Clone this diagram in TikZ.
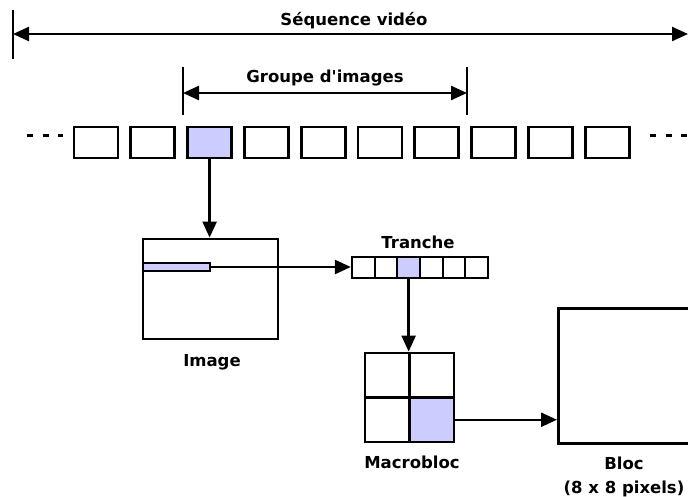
\documentclass[tikz,border=0pt]{standalone}
\usepackage{fontspec}
\setmainfont{DejaVu Sans}
\usetikzlibrary{arrows.meta}
\definecolor{sel}{RGB}{204,204,255}
\begin{document}
\begin{tikzpicture}[x=1pt,y=-1pt,
  frame/.style={draw,line width=2.8pt,minimum width=44pt,minimum height=31pt,inner sep=0pt},
  cell/.style={draw,line width=2.2pt,minimum width=22.67pt,minimum height=21pt,inner sep=0pt},
  conn/.style={line width=2.4pt,-{Triangle[length=16pt,width=14pt]}},
  dbl/.style={line width=2.4pt,{Triangle[length=16pt,width=14pt]}-{Triangle[length=16pt,width=14pt]}},
  bar/.style={line width=2.4pt},
  lbl/.style={font=\fontsize{16.5}{19}\selectfont\bfseries,anchor=base,inner sep=0pt},
  dots/.style={line width=2.8pt,dash pattern=on 6pt off 9.5pt}]
\clip (0,0) rectangle (688,497);
\fill[white] (0,0) rectangle (688,497);
% sequence arrow
\coordinate (sL) at (13,34);
\coordinate (sR) at (688,34);
\draw[bar] (13,10) -- (13,59);
\draw[dbl] (sL) -- (sR);
\node[lbl] (seq) at (354,26) {Séquence vidéo};
% group arrow
\coordinate (gL) at (183,93);
\coordinate (gR) at (467,93);
\draw[bar] (183,67) -- (183,115);
\draw[bar] (467,67) -- (467,115);
\draw[dbl] (gL) -- (gR);
\node[lbl] (grp) at (325,83) {Groupe d\textquotesingle images};
% frames
\foreach \i in {0,...,9} {
  \node[frame] (f\i) at ({96+56.8*\i},142.5) {};
}
\node[frame,fill=sel] at (f2) {};
\draw[dots] (27,135.5) -- (63,135.5);
\draw[dots] (650,135.5) -- (688,135.5);
% image
\node[draw,line width=2.8pt,minimum width=135pt,minimum height=100pt,inner sep=0pt] (img) at (210.5,289) {};
\node[draw,line width=2.2pt,fill=sel,minimum width=67pt,minimum height=8pt,inner sep=0pt] (slice) at (176.5,267) {};
\node[lbl] (imglbl) at (212,366) {Image};
\draw[conn] (f2.south) -- (f2.south |- img.north);
% tranche
\foreach \j in {0,...,5} {
  \node[cell] (c\j) at ({363.3+22.67*\j},267.5) {};
}
\node[cell,fill=sel] at (c2) {};
\node[lbl] (tr) at (418,248) {Tranche};
\draw[conn] (slice.east) -- (slice.east -| c0.west);
% macrobloc
\node[draw,line width=2.8pt,minimum width=89pt,minimum height=89pt,inner sep=0pt] (mb) at (409.5,397.5) {};
\node[draw,line width=2.8pt,fill=sel,minimum width=44.5pt,minimum height=44.5pt,inner sep=0pt] (mbs) at (431.75,419.75) {};
\draw[line width=2.8pt] (mb.north) -- (mb.south);
\draw[line width=2.8pt] (mb.west) -- (mb.east);
\node[lbl] (mblbl) at (412,468) {Macrobloc};
\draw[conn] (c2.south) -- (c2.south |- mb.north);
% bloc
\node[draw,line width=2.8pt,minimum width=150pt,minimum height=135pt,inner sep=0pt,anchor=north west] (bloc) at (557,307) {};
\draw[conn] (mbs.east) -- (mbs.east -| bloc.west);
\node[lbl] (bl1) at (624,469) {Bloc};
\node[lbl] (bl2) at (624,493) {(8 x 8 pixels)};
\end{tikzpicture}
\end{document}
